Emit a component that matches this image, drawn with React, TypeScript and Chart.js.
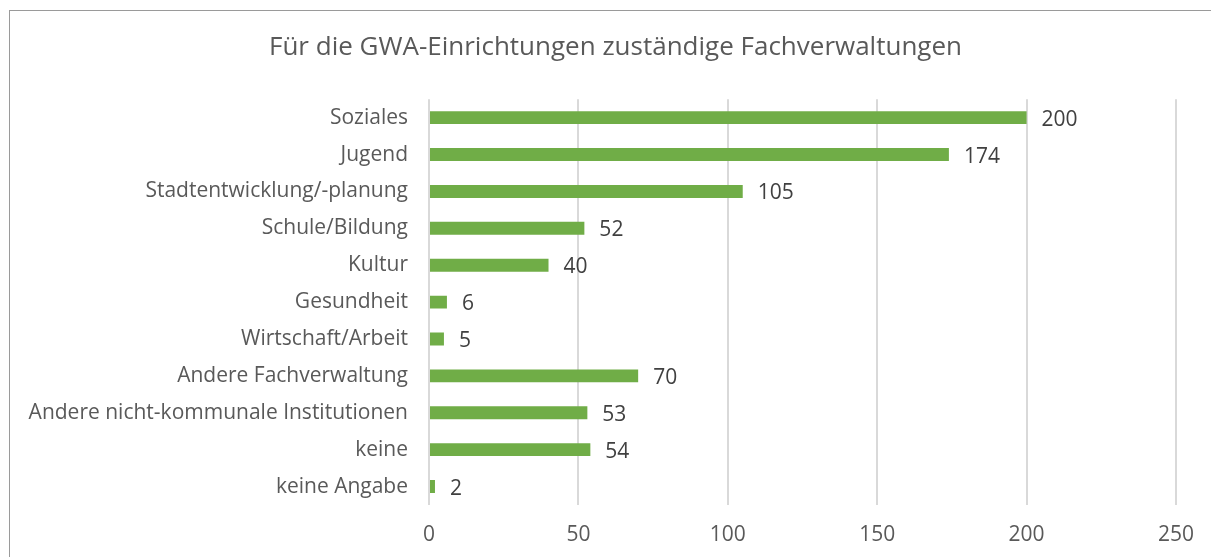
import React, { useEffect, useRef } from "react";
import { Chart, registerables } from "chart.js";

Chart.register(...registerables);

const categories = [
  "Soziales",
  "Jugend",
  "Stadtentwicklung/-planung",
  "Schule/Bildung",
  "Kultur",
  "Gesundheit",
  "Wirtschaft/Arbeit",
  "Andere Fachverwaltung",
  "Andere nicht-kommunale Institutionen",
  "keine",
  "keine Angabe",
];
const values = [200, 174, 105, 52, 40, 6, 5, 70, 53, 54, 2];
const titleText = "Für die GWA-Einrichtungen zuständige Fachverwaltungen";
const xMax = 250;
const xStep = 50;

const FONT = "'Open Sans', 'DejaVu Sans', sans-serif";

const valueLabels = {
  id: "valueLabels",
  afterDatasetsDraw(chart: any) {
    const ctx = chart.ctx;
    const meta = chart.getDatasetMeta(0);
    ctx.save();
    ctx.font = `21px ${FONT}`;
    ctx.fillStyle = "#404040";
    ctx.textAlign = "left";
    ctx.textBaseline = "middle";
    meta.data.forEach((bar: any, i: number) => {
      ctx.fillText(String(chart.data.datasets[0].data[i]), bar.x + 15, bar.y + 2);
    });
    ctx.restore();
  },
};

// Title is centred on the whole chart frame (border box), not the plotting width
const frameTitle = {
  id: "frameTitle",
  afterDraw(chart: any) {
    const ctx = chart.ctx;
    const t = chart.titleBlock;
    ctx.save();
    ctx.font = `26px ${FONT}`;
    ctx.fillStyle = "#595959";
    ctx.textAlign = "center";
    ctx.textBaseline = "middle";
    ctx.fillText(titleText, 615.5, t.top + 32 + 15.6);
    ctx.restore();
  },
};

export default function App() {
  const ref = useRef<HTMLCanvasElement>(null);
  useEffect(() => {
    if (!ref.current) return;
    const chart = new Chart(ref.current, {
      type: "bar",
      data: {
        labels: categories,
        datasets: [
          {
            data: values,
            backgroundColor: "#70AD47",
            barPercentage: 0.7,
            categoryPercentage: 0.5,
          },
        ],
      },
      options: {
        indexAxis: "y",
        animation: false,
        responsive: false,
        maintainAspectRatio: false,
        layout: { padding: { left: 0, right: 35, top: 0, bottom: 0 } },
        plugins: {
          legend: { display: false },
          tooltip: { enabled: false },
          title: {
            display: true,
            text: titleText,
            color: "rgba(0,0,0,0)",
            font: { family: FONT, size: 26, weight: "normal" },
            padding: { top: 32, bottom: 36 },
          },
        },
        scales: {
          x: {
            min: 0,
            max: xMax,
            ticks: {
              stepSize: xStep,
              color: "#595959",
              font: { family: FONT, size: 21 },
              padding: 17,
            },
            grid: { color: "#D9D9D9", lineWidth: 2, drawTicks: false },
            border: { display: false },
            afterFit(scale: any) {
              scale.height = 52;
            },
          },
          y: {
            ticks: {
              color: "#595959",
              font: { family: FONT, size: 21 },
              padding: 21,
            },
            grid: { display: false, drawTicks: false },
            border: { display: false },
            afterFit(scale: any) {
              scale.width = 429;
            },
          },
        },
      },
      plugins: [valueLabels, frameTitle],
    });
    return () => chart.destroy();
  }, []);
  return (
    <div style={{ position: "fixed", left: 0, top: 0, width: 1211, height: 557, background: "#fff" }}>
      <canvas ref={ref} width={1211} height={557} style={{ position: "absolute", left: 0, top: 0 }} />
      <div
        style={{
          position: "absolute",
          left: 9,
          top: 10,
          width: 1300,
          height: 700,
          borderLeft: "1.5px solid #9A9A9A",
          borderTop: "1.5px solid #9A9A9A",
          pointerEvents: "none",
        }}
      />
    </div>
  );
}
